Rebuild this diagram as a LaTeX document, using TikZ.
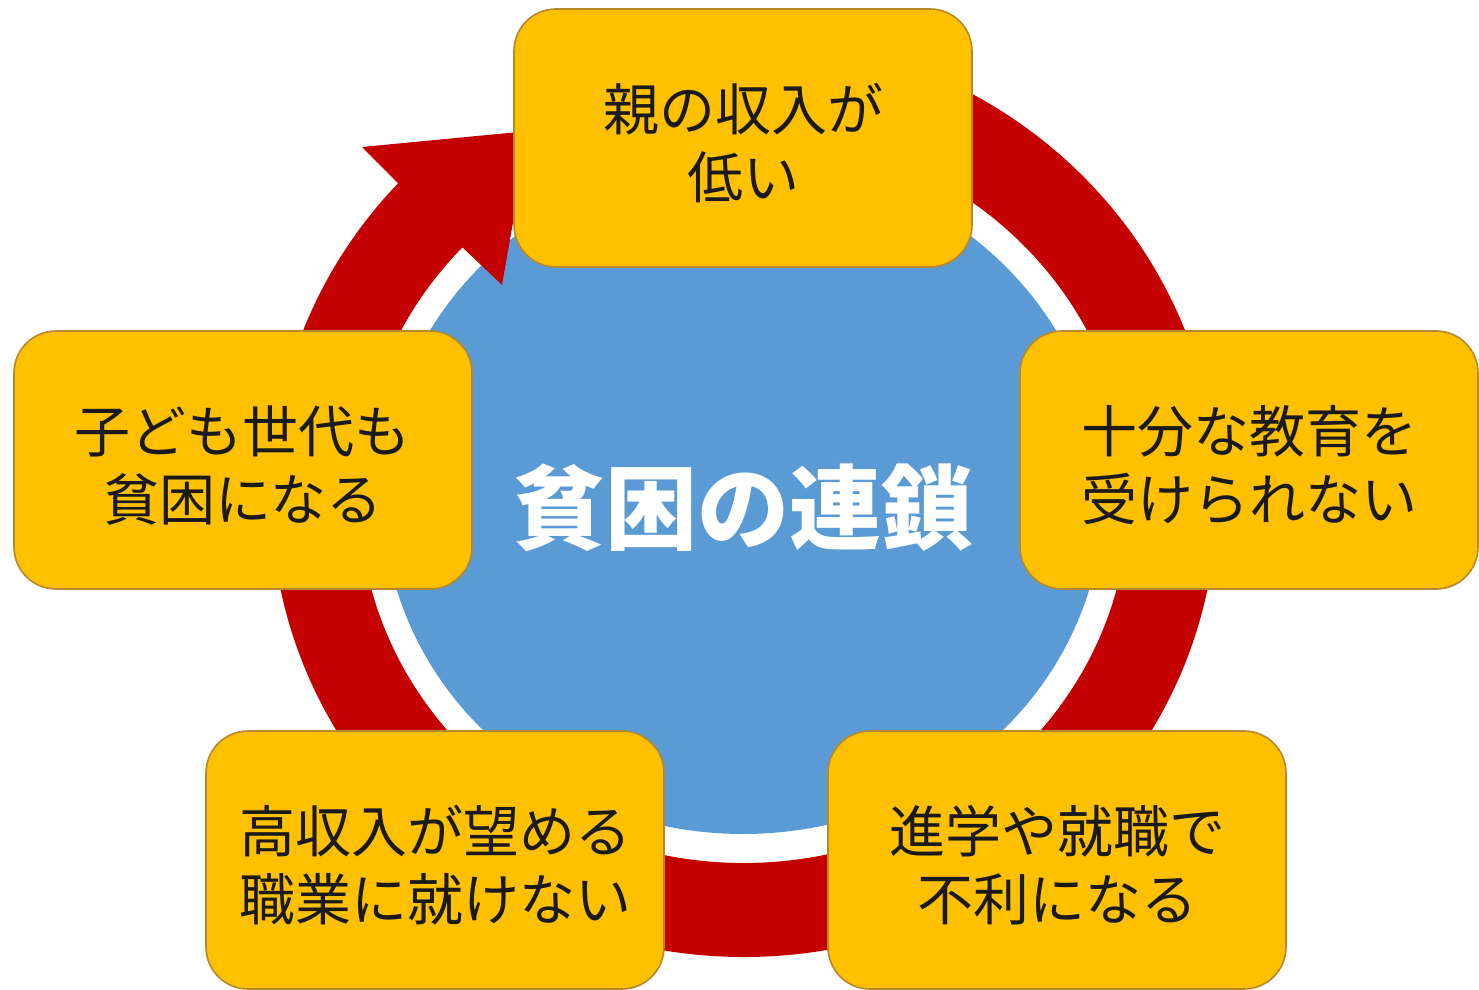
\documentclass[tikz,border=0pt]{standalone}
\usepackage{fontspec}
\newfontfamily\jp{Noto Sans CJK JP}
\usetikzlibrary{calc}
\definecolor{ringred}{HTML}{C40000}
\definecolor{boxfill}{HTML}{FFC000}
\definecolor{boxline}{HTML}{B8862B}
\definecolor{blueC}{HTML}{5B9BD5}
\definecolor{textc}{HTML}{1A1A1A}
\tikzset{
  cbox/.style={draw=boxline, line width=0.8pt, fill=boxfill, rounded corners=21pt,
    minimum width=229pt, minimum height=129pt, inner sep=0pt},
  btext/.style={align=center, inner sep=0pt, yshift=-2.5pt,
    font=\jp\fontsize{28}{34}\selectfont, text=textc},
  titletext/.style={font=\jp\bfseries\fontsize{46}{50}\selectfont, text=white}
}
\begin{document}
\begin{tikzpicture}[x=0.5pt,y=-0.5pt]
\useasboundingbox (0,0) rectangle (1479,990);
\fill[white] (0,0) rectangle (1479,990);
% centre disc
\fill[blueC] (743,497) ellipse [x radius=360, y radius=337];
% circular arrow
\coordinate (c) at (744,497);
\fill[ringred] ($(c)+(-90:473 and 460)$)
  arc[start angle=-90, end angle=223, x radius=473, y radius=460]
  -- (362,147) -- (529,131) -- (502,285)
  -- ($(c)+(223:385 and 366)$)
  arc[start angle=223, end angle=-90, x radius=385, y radius=366] -- cycle;
\node[titletext] (title) at (743,508) {貧困の連鎖};
% boxes
\node[cbox, label={[btext]center:親の収入が\\低い}] (top) at (743,138) {};
\node[cbox, label={[btext]center:十分な教育を\\受けられない}] (right) at (1249,460) {};
\node[cbox, label={[btext]center:進学や就職で\\不利になる}] (br) at (1057,860) {};
\node[cbox, label={[btext]center:高収入が望める\\職業に就けない}] (bl) at (435,860) {};
\node[cbox, label={[btext]center:子ども世代も\\貧困になる}] (left) at (243,460) {};
\end{tikzpicture}
\end{document}
